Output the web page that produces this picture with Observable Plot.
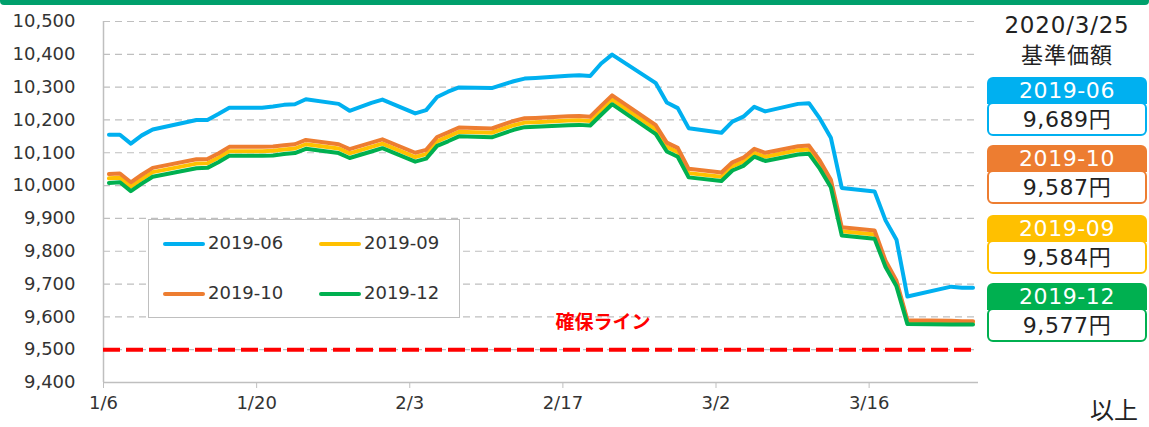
<!DOCTYPE html>
<html>
<head>
<meta charset="utf-8">
<script src="https://cdn.jsdelivr.net/npm/d3@7"></script>
<script src="https://cdn.jsdelivr.net/npm/@observablehq/plot@0.6"></script>
<style>
  body { margin: 0; background: #fff; }
  #wrap { position: relative; width: 1149px; height: 427px; overflow: hidden; font-family: "DejaVu Sans", "Noto Sans CJK JP", sans-serif; color: #222; }
  #wrap svg { position: absolute; left: 0; top: 0; }
  .topbar { position: absolute; left: 0; top: 0; width: 1149px; height: 5px; background: #00a06c; border-radius: 0 0 4px 4px; }
  .legend { position: absolute; left: 148px; top: 219px; width: 310px; height: 97px; border: 1px solid #bfbfbf; background: #fff; }
  .li { position: absolute; height: 20px; }
  .li .sw { position: absolute; top: 8px; width: 42px; height: 4px; border-radius: 2px; }
  .li .tx { position: absolute; left: 45px; top: -2px; font-size: 18px; color: #333; white-space: nowrap; }
  .panel-date { position: absolute; left: 987px; width: 160px; text-align: center; font-size: 23px; letter-spacing: 0.8px; top: 12px; color: #222; }
  .panel-lbl { position: absolute; left: 987px; width: 160px; text-align: center; font-size: 22px; letter-spacing: 1px; top: 37px; color: #222; font-family: "Noto Sans CJK JP", sans-serif; }
  .badge { position: absolute; left: 987px; width: 160px; height: 66px; border-radius: 6px; }
  .badge .hd { position: absolute; left: 0; top: 0; width: 160px; height: 27px; text-align: center; color: #fff; font-size: 22px; line-height: 27px; letter-spacing: 0.6px; }
  .badge .vb { position: absolute; left: 0; top: 25px; width: 156px; height: 30px; background: #fff; border-radius: 6px; border: 2px solid; text-align: center; font-size: 22px; line-height: 31px; color: #222; letter-spacing: 0.6px; }
  .ijo { position: absolute; left: 1090px; top: 394px; font-size: 24px; line-height: 30px; color: #222; font-family: "Noto Sans CJK JP", sans-serif; }
</style>
</head>
<body>
<div id="wrap"></div>
<script>
// ---- data ----
const dates = ["2020-01-06","2020-01-07","2020-01-08","2020-01-09","2020-01-10","2020-01-14","2020-01-15","2020-01-16","2020-01-17","2020-01-20","2020-01-21","2020-01-22","2020-01-23","2020-01-24","2020-01-27","2020-01-28","2020-01-29","2020-01-30","2020-01-31","2020-02-03","2020-02-04","2020-02-05","2020-02-06","2020-02-07","2020-02-10","2020-02-12","2020-02-13","2020-02-14","2020-02-17","2020-02-18","2020-02-19","2020-02-20","2020-02-21","2020-02-25","2020-02-26","2020-02-27","2020-02-28","2020-03-02","2020-03-03","2020-03-04","2020-03-05","2020-03-06","2020-03-09","2020-03-10","2020-03-11","2020-03-12","2020-03-13","2020-03-16","2020-03-17","2020-03-18","2020-03-19","2020-03-23","2020-03-24","2020-03-25"];

const s06 = [10155,10155,10128,10153,10171, 10200,10200,10218,10237, 10237,10241,10246,10248,10263, 10249,10228,10240,10252,10262, 10220,10230,10270,10286,10299, 10297, 10318,10326,10328, 10335,10336,10334,10372,10399, 10312,10253,10236,10175, 10161,10195,10210,10240,10226, 10249,10251,10204,10146,9993, 9982,9894,9835,9662, 9692,9689,9689];
const s09 = [10022,10024,9997,10020,10041, 10067,10068,10085,10105, 10105,10106,10110,10113,10126, 10113,10098,10108,10118,10128, 10087,10096,10135,10149,10164, 10161, 10184,10192,10193, 10198,10199,10197,10230,10262, 10171,10118,10102,10038, 10027,10059,10073,10100,10088, 10108,10110,10064,10007,9861, 9851,9762,9702,9585, 9584,9584,9584];
const s10 = [10035,10037,10010,10033,10054, 10080,10081,10098,10118, 10118,10119,10123,10126,10139, 10126,10111,10121,10131,10141, 10100,10109,10148,10162,10177, 10174, 10197,10205,10206, 10211,10212,10210,10243,10275, 10184,10131,10115,10051, 10040,10071,10085,10112,10100, 10120,10122,10076,10018,9873, 9863,9771,9710,9590, 9588,9587,9587];
const s12 = [10008,10010,9983,10006,10027, 10053,10054,10071,10091, 10091,10092,10096,10099,10112, 10099,10084,10094,10104,10114, 10073,10082,10121,10135,10150, 10147, 10170,10178,10179, 10184,10185,10183,10216,10248, 10157,10104,10088,10025, 10014,10046,10060,10088,10075, 10095,10097,10051,9995,9848, 9838,9752,9693,9578, 9577,9577,9577];

const seriesNames = ["2019-06","2019-09","2019-10","2019-12"];
const seriesColors = ["#00b0f0","#ffc000","#ed7d31","#00b050"];
const latestValues = ["9,689円","9,584円","9,587円","9,577円"];
const panelOrder = ["2019-06","2019-10","2019-09","2019-12"];

const xTicks = ["2020-01-06","2020-01-20","2020-02-03","2020-02-17","2020-03-02","2020-03-16"];
const xTickLabels = ["1/6","1/20","2/3","2/17","3/2","3/16"];
const yTicks = [9400,9500,9600,9700,9800,9900,10000,10100,10200,10300,10400,10500];
const safeLine = 9500;
const safeLabel = "確保ライン";
const asOfDate = "2020/3/25";
const asOfLabel = "基準価額";
const endNote = "以上";

// ---- build ----
const dayNoon = d => new Date(d + "T12:00:00Z");
const day0 = d => new Date(d + "T00:00:00Z");
const allSeries = [s06, s09, s10, s12];
const rows = [];
allSeries.forEach((vals, i) => vals.forEach((v, j) => rows.push({date: dayNoon(dates[j]), value: v, series: seriesNames[i]})));

const xDomain = [day0("2020-01-06"), day0("2020-03-26")];
const tickLabelMap = new Map(xTicks.map((t, i) => [+day0(t), xTickLabels[i]]));

const marks = [
  Plot.ruleY(yTicks.filter(t => t > 9400), {stroke: "#bfbfbf", strokeWidth: 1.2, strokeDasharray: "7,5"}),
  Plot.ruleY([9400], {stroke: "#bfbfbf", strokeWidth: 1.5}),
  Plot.ruleX([xDomain[0]], {stroke: "#bfbfbf", strokeWidth: 1.5}),
  Plot.axisX(xTicks.map(day0), {tickSize: 6, tickPadding: 8, stroke: "#bfbfbf", fill: "#333", fontSize: 18, label: null, tickFormat: d => tickLabelMap.get(+d)}),
  Plot.axisY(yTicks, {tickSize: 0, tickPadding: 28, fill: "#333", fontSize: 18, label: null, tickFormat: d3.format(",")}),
  Plot.ruleY([safeLine], {x1: xDomain[0], x2: dayNoon("2020-03-25"), stroke: "#ff0000", strokeWidth: 4, strokeDasharray: "17,6"}),
  Plot.text([safeLabel], {x: new Date("2020-02-20T16:00:00Z"), y: 9582, text: d => d, fill: "#ff0000", fontSize: 19, fontWeight: "bold", fontFamily: "Noto Sans CJK JP"})
];
seriesNames.forEach((name, i) => {
  marks.push(Plot.line(rows.filter(r => r.series === name), {x: "date", y: "value", stroke: seriesColors[i], strokeWidth: 4, strokeLinejoin: "round", strokeLinecap: "round"}));
});

const chart = Plot.plot({
  width: 1149, height: 427,
  marginLeft: 103, marginRight: 171, marginTop: 21, marginBottom: 45,
  style: {fontFamily: "DejaVu Sans, Noto Sans CJK JP, sans-serif", fontSize: "18px", background: "transparent"},
  x: {type: "utc", domain: xDomain, axis: null, label: null},
  y: {domain: [9400, 10500], axis: null, label: null},
  marks
});

const wrap = document.getElementById("wrap");
wrap.appendChild(chart);

const bar = document.createElement("div"); bar.className = "topbar"; wrap.appendChild(bar);

// legend
const lg = document.createElement("div"); lg.className = "legend"; wrap.appendChild(lg);
const legPos = [[14, 14], [170, 14], [14, 64], [170, 64]];
seriesNames.forEach((name, i) => {
  const li = document.createElement("div"); li.className = "li";
  li.style.left = legPos[i][0] + "px"; li.style.top = legPos[i][1] + "px";
  li.innerHTML = `<div class="sw" style="background:${seriesColors[i]}"></div><div class="tx">${name}</div>`;
  lg.appendChild(li);
});

// right panel
const pd = document.createElement("div"); pd.className = "panel-date"; pd.textContent = asOfDate; wrap.appendChild(pd);
const pl = document.createElement("div"); pl.className = "panel-lbl"; pl.textContent = asOfLabel; wrap.appendChild(pl);
const badgeTops = [77, 145, 215, 283];
panelOrder.forEach((name, k) => {
  const i = seriesNames.indexOf(name);
  const b = document.createElement("div"); b.className = "badge";
  b.style.top = badgeTops[k] + "px";
  b.innerHTML = `<div class="hd" style="background:${seriesColors[i]};border-radius:6px 6px 0 0">${name}</div><div class="vb" style="border-color:${seriesColors[i]}">${latestValues[i]}</div>`;
  wrap.appendChild(b);
});
const ij = document.createElement("div"); ij.className = "ijo"; ij.textContent = endNote; wrap.appendChild(ij);
</script>
</body>
</html>
